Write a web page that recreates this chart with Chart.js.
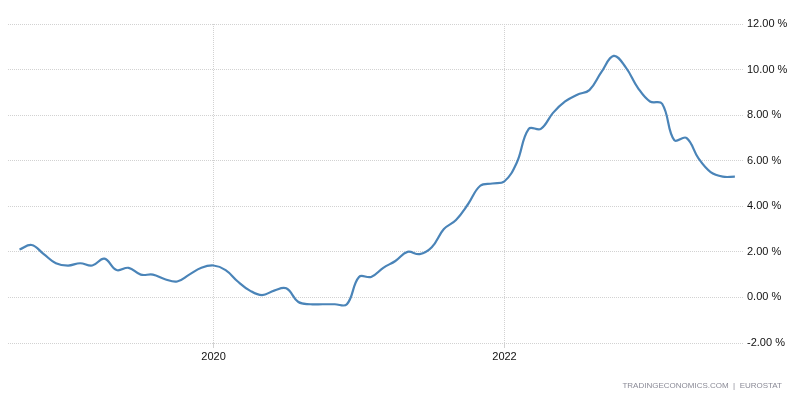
<!DOCTYPE html>
<html>
<head>
<meta charset="utf-8">
<script src="https://cdn.jsdelivr.net/npm/chart.js@4/dist/chart.umd.min.js"></script>
<style>
  html, body { margin: 0; padding: 0; background: #fff; }
  #wrap { position: relative; width: 794px; height: 399px; }
  #footer { position: absolute; right: 12px; top: 381px; font-family: "Liberation Sans", Arial, sans-serif; font-size: 8px; color: #8a8a96; letter-spacing: 0; white-space: nowrap; }
</style>
</head>
<body>
<div id="wrap">
  <canvas id="c" width="794" height="399"></canvas>
  <div id="footer">TRADINGECONOMICS.COM &nbsp;|&nbsp; EUROSTAT</div>
</div>
<script>
// Months from Sep 2018 to Aug 2023 (index 0 = Sep 2018)
const months = [
  "2018-09","2018-10","2018-11","2018-12",
  "2019-01","2019-02","2019-03","2019-04","2019-05","2019-06","2019-07","2019-08","2019-09","2019-10","2019-11","2019-12",
  "2020-01","2020-02","2020-03","2020-04","2020-05","2020-06","2020-07","2020-08","2020-09","2020-10","2020-11","2020-12",
  "2021-01","2021-02","2021-03","2021-04","2021-05","2021-06","2021-07","2021-08","2021-09","2021-10","2021-11","2021-12",
  "2022-01","2022-02","2022-03","2022-04","2022-05","2022-06","2022-07","2022-08","2022-09","2022-10","2022-11","2022-12",
  "2023-01","2023-02","2023-03","2023-04","2023-05","2023-06","2023-07","2023-08"
];
const inflation = [
  2.1, 2.3, 1.9, 1.5,
  1.4, 1.5, 1.4, 1.7, 1.2, 1.3, 1.0, 1.0, 0.8, 0.7, 1.0, 1.3,
  1.4, 1.2, 0.7, 0.3, 0.1, 0.3, 0.4, -0.2, -0.3, -0.3, -0.3, -0.3,
  0.9, 0.9, 1.3, 1.6, 2.0, 1.9, 2.2, 3.0, 3.4, 4.1, 4.9, 5.0,
  5.1, 5.9, 7.4, 7.4, 8.1, 8.6, 8.9, 9.1, 9.9, 10.6, 10.1, 9.2,
  8.6, 8.5, 6.9, 7.0, 6.1, 5.5, 5.3, 5.3
];
const yearTickMonths = ["2020-01", "2022-01"];
const yearTickLabels = ["2020", "2022"];
const yTicks = [-2, 0, 2, 4, 6, 8, 10, 12];

const points = inflation.map((v, i) => ({ x: i, y: v }));
const yearTickIdx = yearTickMonths.map(m => months.indexOf(m));

const FONT = { family: "'Liberation Sans', Arial, sans-serif", size: 11 };

new Chart(document.getElementById('c'), {
  type: 'line',
  data: {
    datasets: [{
      data: points,
      borderColor: '#4a84b8',
      borderWidth: 2.2,
      pointRadius: 0,
      tension: 0.4,
      fill: false
    }]
  },
  options: {
    responsive: false,
    animation: false,
    devicePixelRatio: 1,
    layout: { padding: { top: 24, left: 8, right: 0, bottom: 0 } },
    plugins: { legend: { display: false }, tooltip: { enabled: false } },
    scales: {
      x: {
        type: 'linear',
        min: -0.95,
        max: 59.67,
        afterBuildTicks: (s) => { s.ticks = yearTickIdx.map(v => ({ value: v })); },
        afterFit: (s) => { s.height = 56; },
        ticks: {
          autoSkip: false,
          maxRotation: 0,
          padding: 2,
          color: '#111',
          font: FONT,
          callback: (v) => yearTickLabels[yearTickIdx.indexOf(v)] || ''
        },
        grid: { color: '#d2d2d2', lineWidth: 1, drawTicks: true, tickLength: 5 },
        border: { display: false, dash: [1, 1] }
      },
      y: {
        position: 'right',
        min: -2,
        max: 12,
        afterBuildTicks: (s) => { s.ticks = yTicks.map(v => ({ value: v })); },
        afterFit: (s) => { s.width = 51; },
        ticks: {
          padding: 4,
          color: '#111',
          font: FONT,
          callback: (v) => v.toFixed(2) + ' %'
        },
        grid: { color: '#d2d2d2', lineWidth: 1, drawTicks: false },
        border: { display: false, dash: [1, 1] }
      }
    }
  }
});
</script>
</body>
</html>
